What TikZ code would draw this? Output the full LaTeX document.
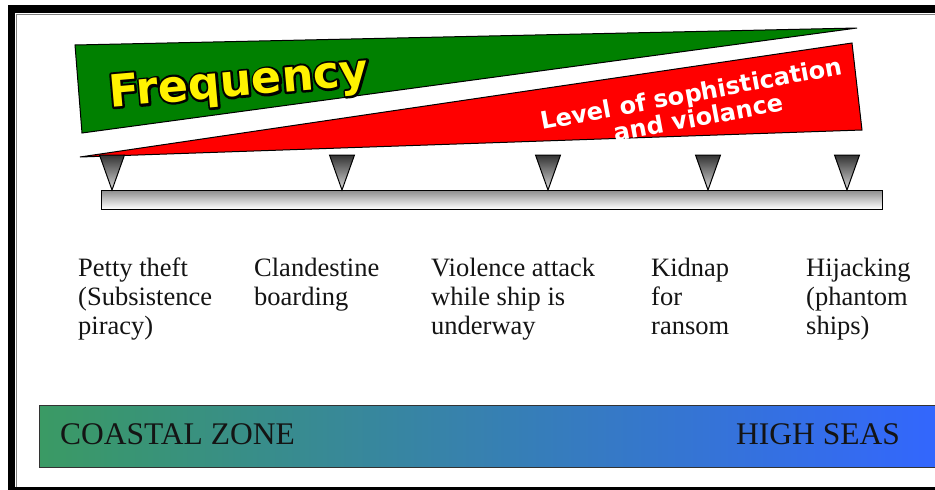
\documentclass[tikz,border=0pt]{standalone}
\usepackage{fontspec}
\setmainfont{Liberation Serif}
\newfontfamily\dejasans{DejaVu Sans}
\definecolor{dkgreen}{RGB}{0,128,0}
\definecolor{zonegreen}{RGB}{58,154,100}
\definecolor{zoneblue}{RGB}{51,102,255}
\definecolor{txt}{RGB}{20,20,20}
\newcommand{\strokedtext}[1]{\special{pdf:literal direct 2 Tr 4.5 w 1 j}#1\special{pdf:literal direct 0 Tr 1 w 0 j}}
\begin{document}
\begin{tikzpicture}[x=1pt,y=-1pt,
  coltext/.style={anchor=north west,inner sep=0pt,align=left,text=txt,
    font=\fontsize{26.5}{29}\selectfont},
  zonetext/.style={inner sep=0pt,text=txt,font=\fontsize{31.5}{34}\selectfont},
  freqtext/.style={anchor=base,inner sep=0pt,rotate=5,
    font=\dejasans\bfseries\fontsize{44.5}{48}\selectfont},
  lvltext/.style={anchor=base,inner sep=0pt,rotate=10.5,text=white,
    font=\dejasans\bfseries\fontsize{24}{26}\selectfont},
  marker/.style={top color=black!80,bottom color=black!15,draw=black,line width=1pt},
  wedge/.style={draw=black,line width=1pt,line join=miter}]
\useasboundingbox (0,0) rectangle (935,490);
\clip (0,0) rectangle (935,490);
% frame
\fill[black] (8,5) rectangle (935,13);
\fill[black] (8,5) rectangle (15,490);
\fill[black] (8,487) rectangle (935,490);
\draw[black!50,line width=1pt] (16.5,487) -- (16.5,14.5) -- (935,14.5);
% wedges
\draw[wedge,fill=dkgreen] (75,45) -- (857,28) -- (82,133) -- cycle;
\draw[wedge,fill=red] (80,157) -- (852,43) -- (862,130) -- cycle;
% Frequency label with outline
\node[freqtext,text=black] (freqo) at (240,96) {\strokedtext{Frequency}};
\node[freqtext,text=yellow] (freq) at (240,96) {Frequency};
% level label
\node[lvltext] (lvl1) at (693,102) {Level of sophistication};
\node[lvltext] (lvl2) at (700,126) {and violance};
% scale bar
\draw[top color=black!45,bottom color=white,draw=black,line width=1pt] (101,190) rectangle (882,209);
\foreach \x/\n in {112/m1,342/m2,548/m3,708/m4,847/m5}
  \draw[marker] (\x-12.5,155) -- (\x+12.5,155) -- (\x,190) -- cycle;
% column texts
\node[coltext] (t1) at (78,258) {Petty theft\\(Subsistence\\piracy)};
\node[coltext] (t2) at (254,258) {Clandestine\\boarding};
\node[coltext] (t3) at (431,258) {Violence attack\\while ship is\\underway};
\node[coltext] (t4) at (651,258) {Kidnap\\for\\ransom};
\node[coltext] (t5) at (806,258) {Hijacking\\(phantom\\ships)};
% zone bar
\draw[left color=zonegreen,right color=zoneblue,draw=black!80,line width=1pt] (39,405) rectangle (945,467);
\node[zonetext,anchor=base west] (cz) at (60,444) {COASTAL ZONE};
\node[zonetext,anchor=base east] (hs) at (900,444) {HIGH SEAS};
\end{tikzpicture}
\end{document}
